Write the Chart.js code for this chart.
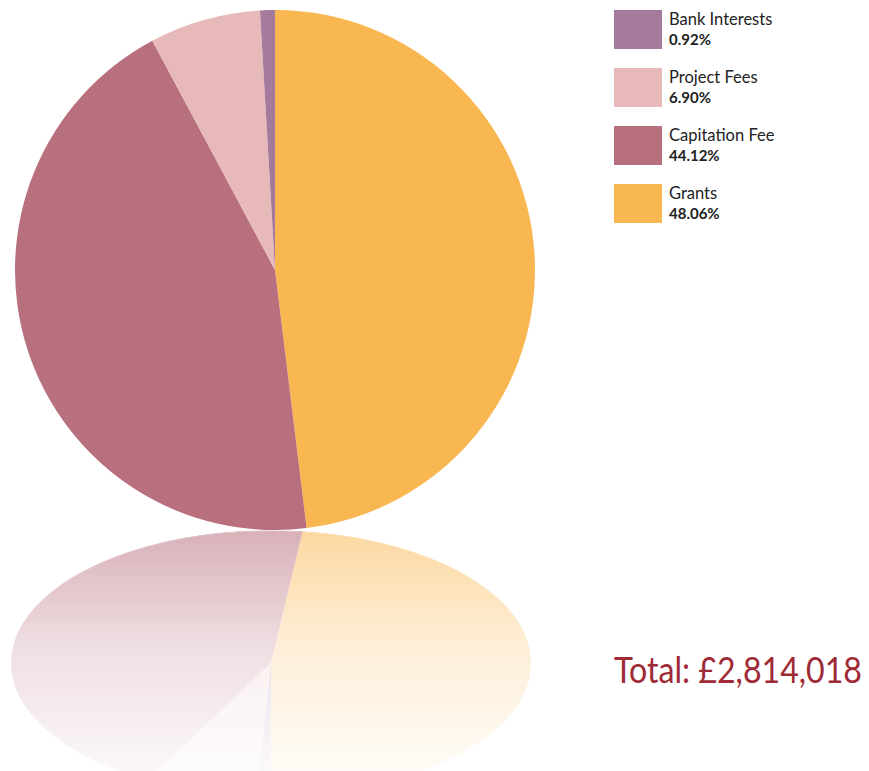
<!DOCTYPE html>
<html>
<head>
<meta charset="utf-8">
<script src="https://cdn.jsdelivr.net/npm/chart.js@4.4.0/dist/chart.umd.min.js"></script>
<style>
  html, body { margin: 0; padding: 0; background: #fff; }
  body { width: 869px; height: 771px; position: relative; overflow: hidden; font-family: "Lato", "Open Sans", sans-serif; }
  #pie { position: absolute; left: 15px; top: 10px; }
  #mirror {
    position: absolute; left: 11px; top: 403px;
    transform: scaleY(-0.51);
    transform-origin: 50% 50%;
    -webkit-mask-image: linear-gradient(to bottom, rgba(0,0,0,0.02), rgba(0,0,0,0.22) 55%, rgba(0,0,0,0.55));
    mask-image: linear-gradient(to bottom, rgba(0,0,0,0.02), rgba(0,0,0,0.22) 55%, rgba(0,0,0,0.55));
  }
  #legend { position: absolute; left: 614px; top: 10px; }
  .item { position: relative; height: 58px; }
  .sw { position: absolute; left: 0; top: 0; width: 48px; height: 39px; }
  .name { position: absolute; left: 55px; top: 0px; font-size: 16.5px; color: #222; line-height: 19px; white-space: nowrap; }
  .pct { position: absolute; left: 55px; top: 20px; font-size: 15px; font-weight: bold; color: #222; line-height: 18px; }
  #total { position: absolute; left: 614px; top: 647px; font-size: 36px; color: #9e2a36; white-space: nowrap; transform-origin: 0 0; }
</style>
</head>
<body>
<canvas id="pie" width="520" height="520"></canvas>
<canvas id="mirror" width="520" height="520"></canvas>
<div id="legend"></div>
<div id="total">Total: £2,814,018</div>
<script>
const categories = ["Grants", "Capitation Fee", "Project Fees", "Bank Interests"];
const shares = [48.06, 44.12, 6.90, 0.92];
const colors = ["#f9b752", "#b86f7e", "#e8b9b9", "#a47a9d"];

function makePie(id) {
  return new Chart(document.getElementById(id), {
    type: "pie",
    data: {
      labels: categories,
      datasets: [{ data: shares, backgroundColor: colors, borderWidth: 0 }]
    },
    options: {
      responsive: false,
      animation: false,
      layout: { padding: 0 },
      plugins: { legend: { display: false }, tooltip: { enabled: false } }
    }
  });
}

makePie("pie");
makePie("mirror");

// legend, listed from the smallest slice up
const legend = document.getElementById("legend");
for (let i = categories.length - 1; i >= 0; i--) {
  const item = document.createElement("div");
  item.className = "item";
  item.innerHTML =
    '<div class="sw" style="background:' + colors[i] + '"></div>' +
    '<div class="name">' + categories[i] + '</div>' +
    '<div class="pct">' + shares[i].toFixed(2) + '%</div>';
  legend.appendChild(item);
}

// squeeze the total to the reference width
const total = document.getElementById("total");
const w = total.getBoundingClientRect().width;
total.style.transform = "scaleX(" + (248 / w) + ")";
</script>
</body>
</html>
